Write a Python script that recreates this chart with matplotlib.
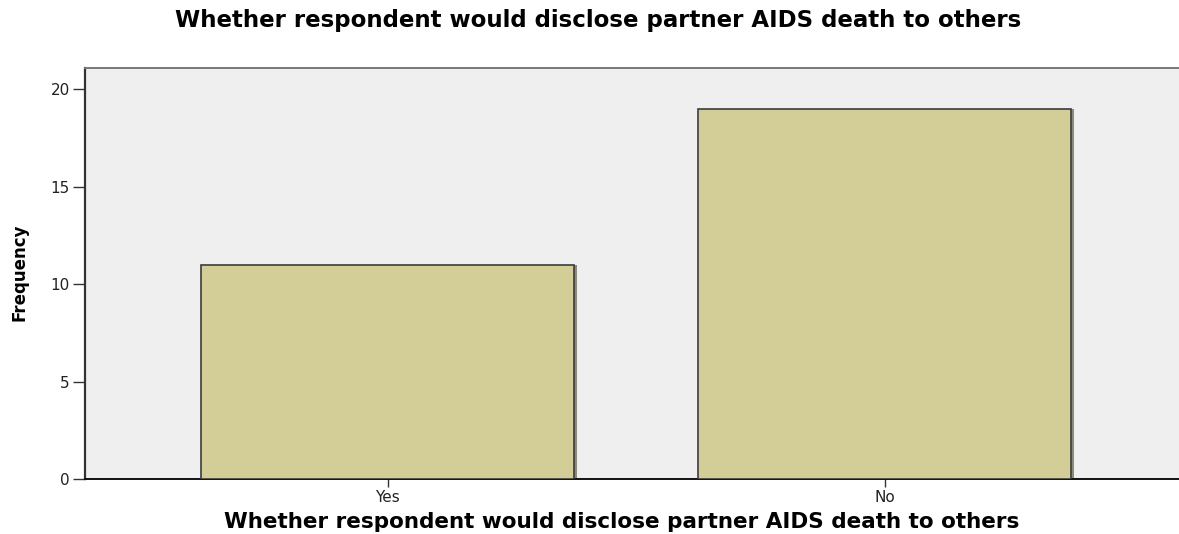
import matplotlib
matplotlib.use('Agg')
import matplotlib.pyplot as plt

# datos del grafico
categories = ['Yes', 'No']
frequency = [11, 19]
y_ticks = [0, 5, 10, 15, 20]
title_text = 'Whether respondent would disclose partner AIDS death to others'
x_label = 'Whether respondent would disclose partner AIDS death to others'
y_label = 'Frequency'

fig = plt.figure(figsize=(11.79, 5.34), dpi=100)
ax = fig.add_axes([85 / 1179, 55 / 534, 1 - 85 / 1179 + 0.002, 411 / 534])
ax.set_facecolor('#efefef')

pos = list(range(len(categories)))
# sombra a la derecha de cada barra
ax.bar([p + 0.006 for p in pos], frequency, width=0.75, color='#8a8a80', zorder=2)
ax.bar(pos, frequency, width=0.75, color='#d3ce98', edgecolor='#3c3c3c', linewidth=1.2, zorder=3)

ax.set_xlim(-0.609, 1.597)
ax.set_ylim(0, 21.08)
ax.set_xticks(pos)
ax.set_xticklabels(categories)
ax.set_yticks(y_ticks)

ax.tick_params(axis='both', width=1.0, color='#333333', labelsize=11,
               labelcolor='#222222', pad=2)
ax.tick_params(axis='y', length=9)
ax.tick_params(axis='x', length=6)
for lbl in ax.get_xticklabels() + ax.get_yticklabels():
    lbl.set_family('DejaVu Sans')

ax.spines['left'].set_color('#333333')
ax.spines['left'].set_linewidth(1.6)
ax.spines['bottom'].set_color('#111111')
ax.spines['bottom'].set_linewidth(1.4)
ax.spines['top'].set_color('#777777')
ax.spines['top'].set_linewidth(1.4)
ax.spines['right'].set_visible(False)

fig.text(598 / 1179, 1 - 20 / 534, title_text, ha='center', va='center',
         fontsize=16.5, fontweight='bold', family='DejaVu Sans')
fig.text(622 / 1179, 1 - 522 / 534, x_label, ha='center', va='center',
         fontsize=15.5, fontweight='bold', family='DejaVu Sans')
fig.text(20 / 1179, 1 - 272 / 534, y_label, ha='center', va='center', rotation=90,
         fontsize=12, fontweight='bold', family='Liberation Sans Narrow')

fig.savefig('out.png', dpi=100)
